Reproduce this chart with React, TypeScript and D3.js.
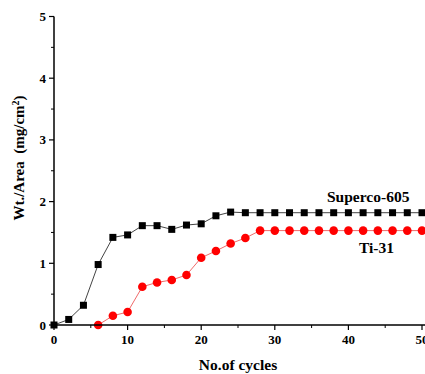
import React from "react";
import * as d3 from "d3";

const cyclesA = [0, 2, 4, 6, 8, 10, 12, 14, 16, 18, 20, 22, 24, 26, 28, 30, 32, 34, 36, 38, 40, 42, 44, 46, 48, 50];
const supercoValues = [0, 0.09, 0.32, 0.98, 1.42, 1.46, 1.61, 1.61, 1.55, 1.62, 1.64, 1.77, 1.83, 1.82, 1.82, 1.82, 1.82, 1.82, 1.82, 1.82, 1.82, 1.82, 1.82, 1.82, 1.82, 1.82];
const cyclesB = [6, 8, 10, 12, 14, 16, 18, 20, 22, 24, 26, 28, 30, 32, 34, 36, 38, 40, 42, 44, 46, 48, 50];
const tiValues = [0, 0.15, 0.21, 0.62, 0.69, 0.73, 0.81, 1.09, 1.2, 1.32, 1.41, 1.53, 1.53, 1.53, 1.53, 1.53, 1.53, 1.53, 1.53, 1.53, 1.53, 1.53, 1.53];
const xTicks = [0, 10, 20, 30, 40, 50];
const yTicks = [0, 1, 2, 3, 4, 5];
const xMinor = [5, 15, 25, 35, 45];
const yMinor = [0.5, 1.5, 2.5, 3.5, 4.5];

export default function App() {
  const W = 425, H = 374;
  const x = d3.scaleLinear().domain([0, 50]).range([54, 422]);
  const y = d3.scaleLinear().domain([0, 5]).range([325, 16.5]);
  const font = "'Liberation Serif', 'Times New Roman', serif";
  const lineA = d3.line<number>().x((_, i) => x(cyclesA[i])).y((d) => y(d));
  const lineB = d3.line<number>().x((_, i) => x(cyclesB[i])).y((d) => y(d));
  return (
    <svg width={W} height={H} style={{ position: "absolute", left: 0, top: 0, background: "#fff" }}>
      <path d={lineA(supercoValues) || ""} fill="none" stroke="#444" strokeWidth={1} />
      <path d={lineB(tiValues) || ""} fill="none" stroke="#f06a6a" strokeWidth={1} />
      {supercoValues.map((v, i) => (
        <rect key={"a" + i} x={x(cyclesA[i]) - 3.5} y={y(v) - 3.5} width={7} height={7} fill="#000" />
      ))}
      {tiValues.map((v, i) => (
        <circle key={"b" + i} cx={x(cyclesB[i])} cy={y(v)} r={4.3} fill="#ff0000" />
      ))}
      {/* axes */}
      <line x1={x(0)} x2={x(0)} y1={y(5)} y2={y(0)} stroke="#000" strokeWidth={1.5} />
      <line x1={x(0)} x2={425} y1={y(0)} y2={y(0)} stroke="#000" strokeWidth={1.5} />
      {yTicks.map((t) => (
        <g key={"yt" + t}>
          <line x1={x(0) - 5} x2={x(0)} y1={y(t)} y2={y(t)} stroke="#000" strokeWidth={1.2} />
          <text x={x(0) - 8} y={y(t) + 4.5} textAnchor="end" fontFamily={font} fontWeight="bold" fontSize={13}>{t}</text>
        </g>
      ))}
      {yMinor.map((t) => (
        <line key={"ym" + t} x1={x(0) - 3} x2={x(0)} y1={y(t)} y2={y(t)} stroke="#000" strokeWidth={1} />
      ))}
      {xTicks.map((t) => (
        <g key={"xt" + t}>
          <line x1={x(t)} x2={x(t)} y1={y(0)} y2={y(0) + 5} stroke="#000" strokeWidth={1.2} />
          <text x={x(t)} y={y(0) + 19} textAnchor="middle" fontFamily={font} fontWeight="bold" fontSize={13}>{t}</text>
        </g>
      ))}
      {xMinor.map((t) => (
        <line key={"xm" + t} x1={x(t)} x2={x(t)} y1={y(0)} y2={y(0) + 3} stroke="#000" strokeWidth={1} />
      ))}
      <text x={238} y={370} textAnchor="middle" fontFamily={font} fontWeight="bold" fontSize={15.5}>No.of cycles</text>
      <text transform="translate(24,158) rotate(-90)" textAnchor="middle" fontFamily={font} fontWeight="bold" fontSize={15} style={{ whiteSpace: "pre" }}>
        {"Wt./Area  (mg/cm"}<tspan baselineShift="super" fontSize={10}>2</tspan>)
      </text>
      <text x={327} y={202} fontFamily={font} fontWeight="bold" fontSize={15.5}>Superco-605</text>
      <text x={359} y={253} fontFamily={font} fontWeight="bold" fontSize={15.5}>Ti-31</text>
    </svg>
  );
}
